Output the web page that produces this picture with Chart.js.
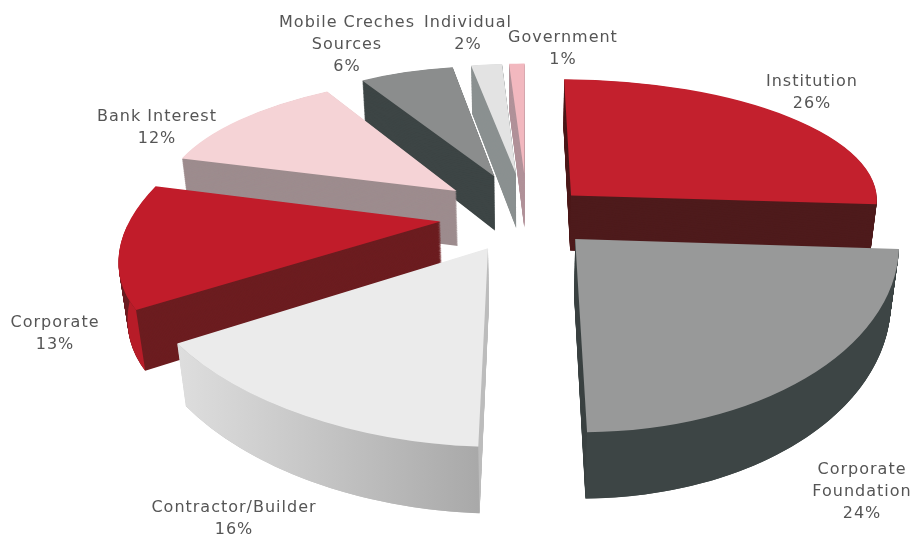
<!DOCTYPE html>
<html>
<head>
<meta charset="utf-8">
<script src="https://cdn.jsdelivr.net/npm/chart.js@4.4.0/dist/chart.umd.min.js"></script>
<style>
  html, body { margin: 0; padding: 0; background: #fff; }
  #contenedor { width: 915px; height: 539px; }
</style>
</head>
<body>
<div id="contenedor"><canvas id="grafico" width="915" height="539"></canvas></div>
<script>
// Datos del grafico
const categorias = ['Institution', 'Corporate Foundation', 'Contractor/Builder', 'Corporate', 'Bank Interest', 'Mobile Creches Sources', 'Individual', 'Government'];
const porcentajes = [26, 24, 16, 13, 12, 6, 2, 1];
const lineasEtiqueta = [
  ['Institution', '26%'],
  ['Corporate', 'Foundation', '24%'],
  ['Contractor/Builder', '16%'],
  ['Corporate', '13%'],
  ['Bank Interest', '12%'],
  ['Mobile Creches', 'Sources', '6%'],
  ['Individual', '2%'],
  ['Government', '1%']
];

// Estilos
const coloresCara = ['#c3202d', '#989999', '#ebebeb', '#c11c2a', '#f5d3d6', '#8b8d8d', '#e3e3e3', '#f2b8bf'];
const coloresCorte = ['#4e1b1c', '#3d4545', '#bdbdbd', '#6c1d20', '#9d8c8e', '#3d4545', '#8b9090', '#b2939a'];
const coloresCurva = ['#4e1b1c', '#3d4545', ['#dedede', '#a9a9a9'], '#b71c28', '#9d8c8e', '#3d4545', '#8b9090', '#b2939a'];
const separacion = [0.2, 0.22, 0.25, 0.28, 0.29, 0.3, 0.3, 0.3];
const posEtiqueta = [[812, 82], [862, 470], [234, 508], [55, 323], [157, 117], [347, 23], [468, 23], [563, 38]];
const camara = { F: 1426, D: 4.6, alfa: 28 * Math.PI / 180, x0: 527, y0: 215 };
const profundidad = 0.21;
const capas = 80;

// Proyeccion en perspectiva de un punto del disco (x, z) a una altura h bajo la cara
function proyectar(x, z, h) {
  const s = Math.sin(camara.alfa), c = Math.cos(camara.alfa);
  const den = camara.D - z * c + h * s;
  return [camara.x0 + camara.F * x / den, camara.y0 + camara.F * (z * s + h * c) / den];
}

// Transformacion afin que lleva el sector de Chart.js a la pantalla
function matrizSector(arc, sep, h) {
  const { x, y, startAngle, endAngle, outerRadius } = arc;
  const mid = (startAngle + endAngle) / 2;
  const ox = sep * Math.cos(mid), oz = sep * Math.sin(mid);
  const q0 = proyectar(ox, oz, h);
  const q1 = proyectar(ox + Math.cos(startAngle), oz + Math.sin(startAngle), h);
  const q2 = proyectar(ox + Math.cos(endAngle), oz + Math.sin(endAngle), h);
  const b11 = outerRadius * Math.cos(startAngle), b12 = outerRadius * Math.cos(endAngle);
  const b21 = outerRadius * Math.sin(startAngle), b22 = outerRadius * Math.sin(endAngle);
  const det = b11 * b22 - b12 * b21;
  const i11 = b22 / det, i12 = -b12 / det, i21 = -b21 / det, i22 = b11 / det;
  const c11 = q1[0] - q0[0], c12 = q2[0] - q0[0], c21 = q1[1] - q0[1], c22 = q2[1] - q0[1];
  const m11 = c11 * i11 + c12 * i21, m12 = c11 * i12 + c12 * i22;
  const m21 = c21 * i11 + c22 * i21, m22 = c21 * i12 + c22 * i22;
  return [m11, m21, m12, m22, q0[0] - (m11 * x + m12 * y), q0[1] - (m21 * x + m22 * y)];
}

function aplicar(m, px, py) {
  return [m[0] * px + m[2] * py + m[4], m[1] * px + m[3] * py + m[5]];
}

// Costado curvo visible (la parte del borde que mira al frente)
function dibujarCurva(ctx, arc, sep, color) {
  const a0 = Math.max(arc.startAngle, 0);
  const a1 = Math.min(arc.endAngle, Math.PI);
  if (a1 <= a0) return;
  const mArriba = matrizSector(arc, sep, 0);
  const mAbajo = matrizSector(arc, sep, profundidad);
  const n = 48;
  const arriba = [], abajo = [];
  for (let k = 0; k <= n; k++) {
    const a = a0 + (a1 - a0) * k / n;
    const px = arc.x + arc.outerRadius * Math.cos(a);
    const py = arc.y + arc.outerRadius * Math.sin(a);
    arriba.push(aplicar(mArriba, px, py));
    abajo.push(aplicar(mAbajo, px, py));
  }
  ctx.beginPath();
  arriba.forEach((p, k) => k === 0 ? ctx.moveTo(p[0], p[1]) : ctx.lineTo(p[0], p[1]));
  abajo.reverse().forEach(p => ctx.lineTo(p[0], p[1]));
  ctx.closePath();
  if (Array.isArray(color)) {
    const xs = arriba.map(p => p[0]);
    const grad = ctx.createLinearGradient(Math.min(...xs), 0, Math.max(...xs), 0);
    grad.addColorStop(0, color[0]);
    grad.addColorStop(1, color[1]);
    ctx.fillStyle = grad;
  } else {
    ctx.fillStyle = color;
  }
  ctx.fill();
}

// Plugin que dibuja el pastel en 3D
const pastel3D = {
  id: 'pastel3D',
  beforeDatasetDraw(chart, args) {
    const ctx = chart.ctx;
    const arcos = args.meta.data.map((arc, i) => ({ arc, i }));
    // de atras hacia adelante
    arcos.sort((a, b) => {
      const za = Math.sin((a.arc.startAngle + a.arc.endAngle) / 2);
      const zb = Math.sin((b.arc.startAngle + b.arc.endAngle) / 2);
      return za - zb;
    });
    arcos.forEach(({ arc, i }) => {
      // caras de corte
      for (let k = capas; k >= 1; k--) {
        const h = profundidad * k / capas;
        ctx.save();
        ctx.transform(...matrizSector(arc, separacion[i], h));
        ctx.beginPath();
        ctx.moveTo(arc.x, arc.y);
        ctx.arc(arc.x, arc.y, arc.outerRadius, arc.startAngle, arc.endAngle);
        ctx.closePath();
        ctx.fillStyle = coloresCorte[i];
        ctx.fill();
        ctx.restore();
      }
      // costado curvo
      dibujarCurva(ctx, arc, separacion[i], coloresCurva[i]);
      // cara superior
      ctx.save();
      ctx.transform(...matrizSector(arc, separacion[i], 0));
      arc.draw(ctx);
      ctx.restore();
    });
    return false;
  },
  afterDraw(chart) {
    const ctx = chart.ctx;
    ctx.save();
    ctx.font = '16px "DejaVu Sans"';
    ctx.letterSpacing = '1px';
    ctx.fillStyle = '#555555';
    ctx.textAlign = 'center';
    ctx.textBaseline = 'middle';
    lineasEtiqueta.forEach((lineas, i) => {
      const [px, py] = posEtiqueta[i];
      lineas.forEach((t, j) => ctx.fillText(t, px, py + j * 22));
    });
    ctx.restore();
  }
};

document.addEventListener('DOMContentLoaded', function() {
  const ctx = document.getElementById('grafico').getContext('2d');
  window.graficoPastel = new Chart(ctx, {
    type: 'pie',
    data: {
      labels: categorias,
      datasets: [{
        data: porcentajes,
        backgroundColor: coloresCara,
        borderWidth: 0,
        offset: 0
      }]
    },
    options: {
      responsive: false,
      animation: false,
      events: [],
      plugins: {
        legend: { display: false },
        tooltip: { enabled: false }
      }
    },
    plugins: [pastel3D]
  });
});
</script>
</body>
</html>
